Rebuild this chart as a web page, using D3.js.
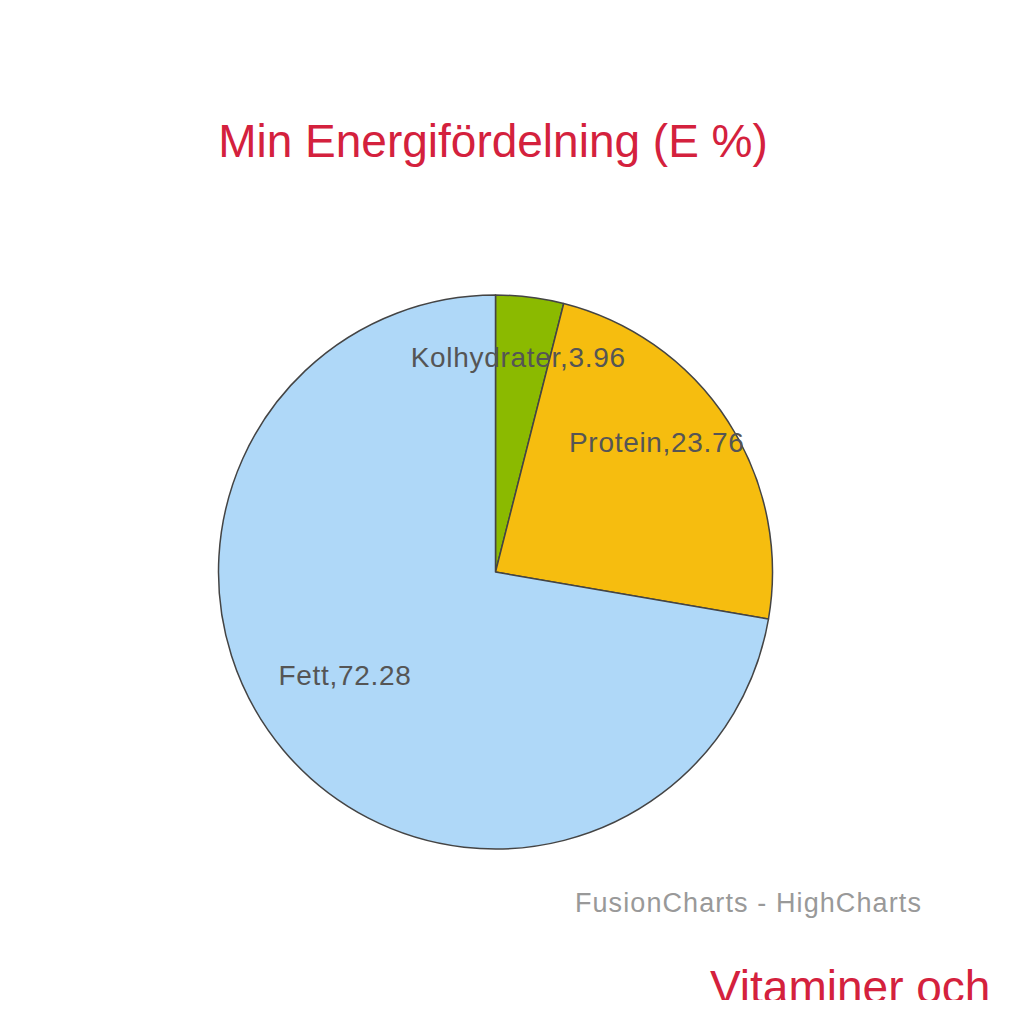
<!DOCTYPE html>
<html><head><meta charset="utf-8">
<script src="https://cdn.jsdelivr.net/npm/d3@7"></script>
<style>html,body{margin:0;padding:0;background:#fff;}svg{display:block;}</style>
</head><body>
<script>
const categories = ["Kolhydrater", "Protein", "Fett"];
const values = [3.96, 23.76, 72.28];
const colors = ["#8bba00", "#f6bd0f", "#afd8f8"];
const title = "Min Energifördelning (E %)";
const credits = "FusionCharts - HighCharts";
const nextTitle = "Vitaminer och";

const W = 1024, H = 1024;
const svg = d3.select("body").append("svg").attr("width", W).attr("height", H);
const font = "Helvetica, Arial, 'Liberation Sans', sans-serif";

svg.append("defs").append("clipPath").attr("id", "pageclip")
  .append("rect").attr("x", 0).attr("y", 0).attr("width", W).attr("height", 1000);
const root = svg.append("g").attr("clip-path", "url(#pageclip)");

root.append("text").attr("x", 493).attr("y", 157).attr("text-anchor", "middle")
  .attr("font-family", font).attr("font-size", 46).attr("fill", "#d4213d").text(title);

const cx = 495.5, cy = 572, R = 277;
const data = categories.map((c, i) => ({cat: c, val: values[i], color: colors[i]}));
const pie = d3.pie().value(d => d.val).sort(null);
const arcs = pie(data);
const arc = d3.arc().innerRadius(0).outerRadius(R);
const g = root.append("g").attr("transform", `translate(${cx},${cy})`);
g.selectAll("path").data(arcs).enter().append("path")
  .attr("d", arc).attr("fill", d => d.data.color)
  .attr("stroke", "#444").attr("stroke-width", 1.5).attr("stroke-linejoin", "round");

const labelArc = d3.arc().innerRadius(R * 0.72).outerRadius(R * 0.72);
g.selectAll("text.lbl").data(arcs).enter().append("text").attr("class", "lbl")
  .attr("transform", d => {
    const [x, y] = labelArc.centroid(d);
    const a = (d.startAngle + d.endAngle) / 2;
    let dx, dy;
    if (a > Math.PI) { dx = 2; dy = -25; }
    else if (a < 0.3) { dx = -2; dy = -17; }
    else { dx = -6; dy = -21; }
    return `translate(${x + dx},${y + dy})`;
  })
  .attr("text-anchor", "middle").attr("dy", "0.35em")
  .attr("font-family", font).attr("font-size", 28).attr("letter-spacing", 0.7)
  .attr("fill", "#555")
  .text(d => `${d.data.cat},${d.data.val}`);

root.append("text").attr("x", 922).attr("y", 912).attr("text-anchor", "end")
  .attr("font-family", font).attr("font-size", 27).attr("letter-spacing", 1.1)
  .attr("fill", "#999").text(credits);

root.append("text").attr("x", 710).attr("y", 1003)
  .attr("font-family", font).attr("font-size", 46).attr("fill", "#d4213d").text(nextTitle);
</script>
</body></html>
